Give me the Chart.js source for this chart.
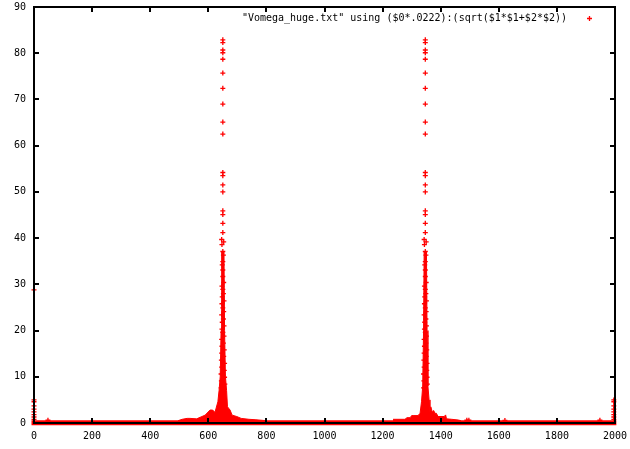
<!DOCTYPE html>
<html>
<head>
<meta charset="utf-8">
<script src="https://cdn.jsdelivr.net/npm/chart.js@4/dist/chart.umd.min.js"></script>
<style>
	html, body { margin: 0; padding: 0; background: #fff; }
	#wrap { width: 630px; height: 449px; }
</style>
</head>
<body>
<div id="wrap"><canvas id="c" width="630" height="449"></canvas></div>
<script>
	'use strict';

	// DATA
	// ====

	var seriesLabel = '"Vomega_huge.txt" using ($0*.0222):(sqrt($1*$1+$2*$2))'
	var xTicks = [0, 200, 400, 600, 800, 1000, 1200, 1400, 1600, 1800, 2000]
	var yTicks = [0, 10, 20, 30, 40, 50, 60, 70, 80, 90]

	// the two mirrored spikes share the same magnitudes
	var peakCenters = [650, 1347]
	var peakHeights = [82.9, 82.3, 80.7, 80.1, 78.7, 75.7, 72.4, 69.0, 65.1, 62.5,
		54.2, 53.5, 51.5, 50.0, 45.9, 45.1, 43.2, 41.2, 39.7, 39.2, 38.6, 37.1,
		36.3, 34.9, 34.2, 33.1, 31.7, 30.4, 29.6, 28.9, 28.0, 27.3, 26.4, 25.8,
		24.9, 24.1, 23.4, 22.5, 21.8, 21.0, 20.3, 19.6, 18.8, 18.1, 17.3, 16.6,
		15.8, 15.1, 14.4, 13.6, 12.9, 12.1, 11.4, 10.6, 9.9, 9.1, 8.4, 7.6]
	var peakOffsets = [0, 0, 0, 0, 0, 0, 0, 0, 0, 0,
		0, 0, 0, 0, 0, 0, 0, 0, -4, 3, -3, 0,
		2, 0, -2, 0, 0, 3, -3, 0, 2, -2, 4, -3,
		0, 3, -4, 2, -2, 4, -3, 0, 4, -4, 2, -3,
		5, -4, 3, -5, 6, -4, 5, -6, 6, -5, 7, -6]

	// noise at both ends of the record
	var edgeLeftX = [0, 0, 0, 0, 0, 0, 0, 0, 0]
	var edgeLeftY = [28.8, 5.0, 4.6, 3.7, 3.0, 2.4, 1.8, 1.3, 0.8]
	var edgeRightX = [1996, 1996, 1996, 1996, 1996, 1996, 1996, 1996]
	var edgeRightY = [5.0, 4.6, 3.7, 3.0, 2.4, 1.8, 1.3, 0.8]

	// dense skirts and solid cores round the spikes
	var skirt1X = [496, 510, 527, 537, 560, 578, 589, 606, 615, 623, 633, 637, 641, 644, 646, 654, 656, 659, 663, 666, 670, 675, 682, 698, 713, 740, 764, 800]
	var skirt1Y = [0.5, 0.8, 1.0, 1.0, 0.9, 1.4, 1.7, 2.8, 2.8, 2.3, 4.6, 7.0, 10.0, 20.0, 37.0, 37.0, 20.0, 10.0, 7.0, 3.5, 3.2, 2.8, 1.7, 1.4, 1.0, 0.8, 0.7, 0.5]
	var skirt2X = [1236, 1277, 1284, 1295, 1300, 1305, 1322, 1329, 1334, 1338, 1341, 1343, 1351, 1353, 1356, 1360, 1363, 1366, 1371, 1376, 1380, 1385, 1391, 1412, 1417, 1420, 1438, 1460, 1470]
	var skirt2Y = [0.8, 0.8, 1.15, 1.15, 1.6, 1.6, 1.6, 2.1, 4.6, 8.0, 20.0, 37.0, 37.0, 20.0, 8.0, 5.0, 2.4, 3.5, 2.4, 2.7, 2.1, 2.1, 1.4, 1.4, 1.75, 0.9, 0.8, 0.65, 0.5]

	// the flat noise floor and a few stray points
	var floorX = [0, 1996]
	var floorY = [0.05, 0.05]
	var strayX = [48, 1490, 1497, 1621, 1948]
	var strayY = [0.6, 0.6, 0.6, 0.55, 0.6]

	var RED = '#ff0000'
	var FONT = "'DejaVu Sans Mono', monospace"

	function pts(xs, ys) {
		return xs.map(function (x, i) { return { x: x, y: ys[i] } })
	}

	var peakPts = []
	peakCenters.forEach(function (c) {
		peakHeights.forEach(function (h, i) {
			peakPts.push({ x: c + peakOffsets[i], y: h })
		})
	})

	var crossPts = peakPts
		.concat(pts(edgeLeftX, edgeLeftY))
		.concat(pts(edgeRightX, edgeRightY))
		.concat(pts(strayX, strayY))

	// FRAME, TICKS AND KEY (gnuplot look)
	// ===================================

	var framePlugin = {
		id: 'frame',
		afterDatasetsDraw: function (chart) {
			var ctx = chart.ctx
			var a = chart.chartArea
			var xs = chart.scales.x
			var ys = chart.scales.y
			var tl = 5

			ctx.save()
			ctx.strokeStyle = '#000'
			ctx.lineWidth = 2
			ctx.beginPath()
			xTicks.forEach(function (v) {
				var p = Math.round(xs.getPixelForValue(v))
				ctx.moveTo(p, a.bottom); ctx.lineTo(p, a.bottom - tl)
				ctx.moveTo(p, a.top); ctx.lineTo(p, a.top + tl)
			})
			yTicks.forEach(function (v) {
				var p = Math.round(ys.getPixelForValue(v))
				ctx.moveTo(a.left, p); ctx.lineTo(a.left + tl, p)
				ctx.moveTo(a.right, p); ctx.lineTo(a.right - tl, p)
			})
			ctx.stroke()
			ctx.strokeRect(a.left, a.top, a.right - a.left, a.bottom - a.top)

			// key
			ctx.font = '10px ' + FONT
			ctx.fillStyle = '#000'
			ctx.textAlign = 'right'
			ctx.textBaseline = 'middle'
			ctx.fillText(seriesLabel, 567, 18)
			ctx.strokeStyle = RED
			ctx.lineWidth = 1.3
			Chart.helpers.drawPoint(ctx, { pointStyle: 'cross', radius: 2.5, rotation: 0, borderWidth: 1.3 }, 589.5, 18.5)
			ctx.restore()
		}
	}

	new Chart(document.getElementById('c'), {
		type: 'scatter',
		data: {
			datasets: [{
				label: seriesLabel,
				data: crossPts,
				pointStyle: 'cross',
				pointRadius: 2.5,
				borderWidth: 1.3,
				borderColor: RED,
				backgroundColor: RED,
				clip: false
			}, {
				type: 'line',
				data: pts(skirt1X, skirt1Y),
				showLine: true,
				fill: 'origin',
				pointRadius: 0,
				borderWidth: 1,
				borderColor: RED,
				backgroundColor: RED,
				tension: 0
			}, {
				type: 'line',
				data: pts(skirt2X, skirt2Y),
				showLine: true,
				fill: 'origin',
				pointRadius: 0,
				borderWidth: 1,
				borderColor: RED,
				backgroundColor: RED,
				tension: 0
			}, {
				type: 'line',
				data: pts(floorX, floorY),
				showLine: true,
				pointRadius: 0,
				borderWidth: 5,
				borderColor: RED,
				borderCapStyle: 'square',
				clip: false
			}]
		},
		options: {
			responsive: false,
			animation: false,
			devicePixelRatio: 1,
			layout: { padding: { top: 7, right: 15, left: 0, bottom: 0 } },
			plugins: {
				legend: { display: false },
				tooltip: { enabled: false }
			},
			scales: {
				x: {
					type: 'linear',
					min: 0,
					max: 2000,
					afterBuildTicks: function (s) { s.ticks = xTicks.map(function (v) { return { value: v } }) },
					afterFit: function (s) { s.height = 26; s.paddingLeft = 0; s.paddingRight = 0 },
					grid: { display: false, drawTicks: false },
					border: { display: false },
					ticks: {
						padding: 7,
						maxRotation: 0,
						color: '#000',
						font: { family: FONT, size: 10 },
						callback: function (v) { return String(v) }
					}
				},
				y: {
					min: 0,
					max: 90,
					afterBuildTicks: function (s) { s.ticks = yTicks.map(function (v) { return { value: v } }) },
					afterFit: function (s) { s.width = 34; s.paddingTop = 0; s.paddingBottom = 0 },
					grid: { display: false, drawTicks: false },
					border: { display: false },
					ticks: {
						padding: 8,
						color: '#000',
						font: { family: FONT, size: 10 },
						callback: function (v) { return String(v) }
					}
				}
			}
		},
		plugins: [framePlugin]
	})
</script>
</body>
</html>
